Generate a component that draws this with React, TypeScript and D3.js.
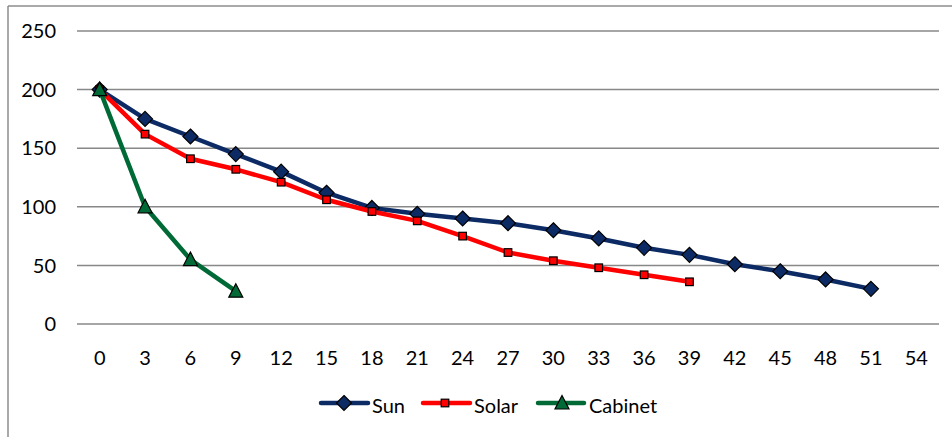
import React from "react";
import * as d3 from "d3";

const categories = [0, 3, 6, 9, 12, 15, 18, 21, 24, 27, 30, 33, 36, 39, 42, 45, 48, 51, 54];
const sunValues = [200, 175, 160, 145, 130, 112, 99, 94, 90, 86, 80, 73, 65, 59, 51, 45, 38, 30];
const solarValues = [200, 162, 141, 132, 121, 106, 96, 88, 75, 61, 54, 48, 42, 36];
const cabinetValues = [200, 100, 55, 28];
const yTicks = [0, 50, 100, 150, 200, 250];
const seriesNames = ["Sun", "Solar", "Cabinet"];

const W = 952;
const H = 437;
const FONT = "Lato, 'Open Sans', sans-serif";

const series = [
  { name: seriesNames[0], values: sunValues, color: "#0c2a64", marker: "diamond", fill: "#0c2a64" },
  { name: seriesNames[1], values: solarValues, color: "#ff0000", marker: "square", fill: "#ff0000" },
  { name: seriesNames[2], values: cabinetValues, color: "#006a36", marker: "triangle", fill: "#006a36" },
];

function Marker({ type, x, y, fill }: { type: string; x: number; y: number; fill: string }) {
  if (type === "diamond") {
    const r = 7.5;
    return (
      <path
        d={`M${x},${y - r}L${x + r},${y}L${x},${y + r}L${x - r},${y}Z`}
        fill={fill}
        stroke="#000"
        strokeWidth={1.2}
      />
    );
  }
  if (type === "square") {
    const s = 3.8;
    return <rect x={x - s} y={y - s} width={2 * s} height={2 * s} fill={fill} stroke="#000" strokeWidth={1.2} />;
  }
  const h = 7.5;
  return (
    <path
      d={`M${x},${y - h}L${x + 7},${y + 6}L${x - 7},${y + 6}Z`}
      fill={fill}
      stroke="#000"
      strokeWidth={1.2}
    />
  );
}

export default function App() {
  const left = 77;
  const right = 939;
  const x = d3.scaleBand<number>().domain(categories).range([left, right]);
  const y = d3.scaleLinear().domain([0, 250]).range([324, 31]);
  const cx = (i: number) => (x(categories[i]) as number) + x.bandwidth() / 2;
  const line = d3
    .line<number>()
    .x((_, i) => cx(i))
    .y((d) => y(d));

  const legendItems = [
    { lineX0: 321, lineX1: 368, mx: 344, tx: 372 },
    { lineX0: 423, lineX1: 470, mx: 445, tx: 474 },
    { lineX0: 538, lineX1: 584, mx: 562, tx: 589 },
  ];
  const legendY = 403;

  return (
    <svg
      width={W}
      height={H}
      style={{ position: "absolute", left: 0, top: 0, background: "#fff" }}
      fontFamily={FONT}
    >
      <rect x={0} y={0} width={W} height={H} fill="#fff" />
      {/* chart border */}
      <line x1={8} y1={6} x2={W} y2={6} stroke="#8c8c8c" strokeWidth={1.5} />
      <line x1={8} y1={6} x2={8} y2={H} stroke="#8c8c8c" strokeWidth={1.5} />
      {/* grid */}
      {yTicks.map((t) => (
        <g key={t}>
          <line x1={left} x2={right} y1={y(t)} y2={y(t)} stroke="#888" strokeWidth={1.5} />
          <text x={56} y={y(t)} dy="0.36em" textAnchor="end" fontSize={20} fill="#000">
            {t}
          </text>
        </g>
      ))}
      {categories.map((c, i) => (
        <text key={c} x={cx(i)} y={358} dy="0.36em" textAnchor="middle" fontSize={20} fill="#000">
          {c}
        </text>
      ))}
      {series.map((s) => (
        <g key={s.name}>
          <path d={line(s.values) || ""} fill="none" stroke={s.color} strokeWidth={4.5} strokeLinejoin="round" />
          {s.values.map((v, i) => (
            <Marker key={i} type={s.marker} x={cx(i)} y={y(v)} fill={s.fill} />
          ))}
        </g>
      ))}
      {series.map((s, i) => {
        const l = legendItems[i];
        return (
          <g key={s.name}>
            <line x1={l.lineX0} x2={l.lineX1} y1={legendY} y2={legendY} stroke={s.color} strokeWidth={4.5} strokeLinecap="round" />
            <Marker type={s.marker} x={l.mx} y={legendY} fill={s.fill} />
            <text x={l.tx} y={legendY + 3} dy="0.36em" fontSize={20} fill="#000">
              {s.name}
            </text>
          </g>
        );
      })}
    </svg>
  );
}
